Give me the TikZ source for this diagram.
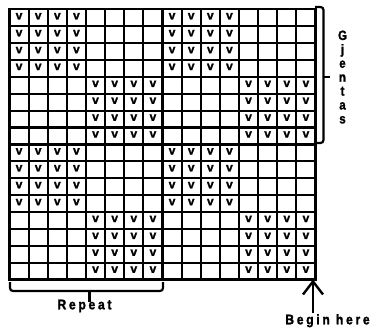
\documentclass[tikz,border=0pt]{standalone}
\usepackage{fontspec}
\setmainfont{Liberation Sans}
\newfontfamily\spacedfont[LetterSpace=22,FakeBold=1.5]{Liberation Sans Bold}
\newfontfamily\heavyfont[FakeBold=1.5]{Liberation Sans Bold}
\usetikzlibrary{arrows.meta}
\begin{document}
\begin{tikzpicture}[x=1pt,y=-1pt,
  gridline/.style={line width=2.2pt, line cap=rect},
  vmark/.style={font=\fontsize{12}{12}\selectfont\heavyfont, inner sep=0pt},
  bracket/.style={line width=2.2pt, rounded corners=3pt},
  sidelabel/.style={font=\fontsize{13.5}{14}\selectfont\heavyfont, inner sep=0pt, anchor=base},
  spacedlabel/.style={font=\fontsize{14}{15}\selectfont\spacedfont, inner sep=0pt, anchor=base}]
\useasboundingbox (0,0) rectangle (371,329);
\fill[white] (0,0) rectangle (371,329);
% grid
\foreach \i in {0,...,16} \draw[gridline] ({9.5+\i*19.125},9.3) -- ({9.5+\i*19.125},279.5);
\foreach \j in {0,...,16} \draw[gridline] (9.5,{9.3+\j*16.89}) -- (315.5,{9.3+\j*16.89});
% v marks
\foreach \r in {0,...,15}{\foreach \c in {0,...,15}{
  \pgfmathtruncatemacro\blk{mod(int(\r/4)+int(\c/4),2)}
  \ifnum\blk=0
    \node[vmark] (v-\r-\c) at ({9.5+(\c+0.5)*19.125},{9.3+(\r+0.5)*16.89-1.5}) {v};
  \fi
}}
% right bracket
\draw[bracket] (315,7) -- (323.5,7) -- (323.5,143) -- (315,143);
\draw[line width=2.2pt] (323.5,77) -- (330,77);
% Gjentas
\foreach \ch [count=\k from 0] in {G,j,e,n,t,a,s}
  \node[sidelabel] (g\k) at (342.5,{40+\k*13.9}) {\scalebox{0.85}[1]{\ch}};
% bottom bracket
\draw[bracket] (10,282) -- (10,291) -- (163,291) -- (163,282);
\draw[line width=2.2pt] (89.5,291) -- (89.5,302);
\node[spacedlabel] (repeat) at (84.5,309.3) {\scalebox{0.87}[1]{Repeat}};
% begin here arrow
\node[spacedlabel] (begin) at (327.5,324.3) {\scalebox{0.87}[1]{Begin here}};
\coordinate (corner) at (313,279.5);
\draw[line width=2.4pt, -{Straight Barb[length=13pt,width=20pt]}] (corner |- 0,313) -- (corner);
\end{tikzpicture}
\end{document}
